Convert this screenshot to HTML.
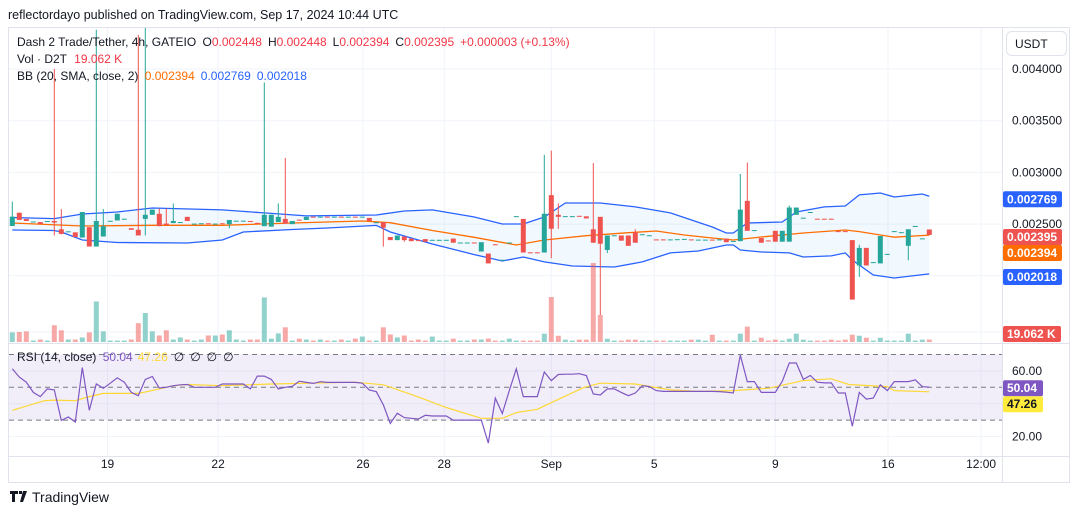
<!DOCTYPE html>
<html><head><meta charset="utf-8"><style>
body{margin:0;background:#fff;width:1080px;height:515px;overflow:hidden;font-family:"Liberation Sans",sans-serif}
svg{display:block}
text{font-family:"Liberation Sans",sans-serif}
</style></head><body>
<svg id="c" width="1080" height="515" viewBox="0 0 1080 515" xmlns="http://www.w3.org/2000/svg">
<text x="8" y="19" font-size="12.5" fill="#131722">reflectordayo published on TradingView.com, Sep 17, 2024 10:44 UTC</text>
<rect x="8.5" y="27.5" width="1061" height="455" fill="#fff" stroke="#e0e3eb"/>
<g id="grid"></g>
<g id="bb"></g>
<g id="vol"></g>
<g id="candles"></g>
<g id="rsi"></g>
<line x1="8" y1="343.5" x2="1069" y2="343.5" stroke="#e0e3eb"/>
<line x1="8" y1="456.5" x2="1069" y2="456.5" stroke="#e0e3eb"/>
<line x1="1002.5" y1="27" x2="1002.5" y2="483" stroke="#e0e3eb"/>
<g id="axis" font-size="12" fill="#131722"></g>
<rect x="1006.5" y="31.5" width="60" height="24" rx="5" fill="#fff" stroke="#e0e3eb"/>
<text x="1015" y="48" font-size="12" fill="#131722">USDT</text>
<g font-size="12">
<text x="17" y="46" fill="#131722">Dash 2 Trade/Tether, 4h, GATEIO <tspan dx="3">O</tspan><tspan fill="#f23645">0.002448</tspan><tspan dx="6">H</tspan><tspan fill="#f23645">0.002448</tspan><tspan dx="6">L</tspan><tspan fill="#f23645">0.002394</tspan><tspan dx="6">C</tspan><tspan fill="#f23645">0.002395</tspan><tspan dx="6" fill="#f23645">+0.000003 (+0.13%)</tspan></text>
<text x="17" y="63" fill="#131722">Vol · D2T <tspan dx="4" fill="#f23645">19.062 K</tspan></text>
<text x="17" y="80" fill="#131722">BB (20, SMA, close, 2) <tspan dx="3" fill="#ff6d00">0.002394</tspan><tspan dx="6" fill="#2962ff">0.002769</tspan><tspan dx="6" fill="#2962ff">0.002018</tspan></text>
<text x="17" y="361" fill="#131722">RSI (14, close) <tspan dx="3" fill="#7e57c2">50.04</tspan><tspan dx="5" fill="#fdd835">47.26</tspan><tspan dx="6">∅</tspan><tspan dx="6">∅</tspan><tspan dx="6">∅</tspan><tspan dx="6">∅</tspan></text>
</g>
<g id="tags" font-size="12" font-weight="bold"></g>
<g id="time" font-size="12" fill="#131722"></g>
<g>
<path d="M10 491h8v3h-3v8h-3v-8h-2z M19 491h3v3h-3z M23 491h4l-4 11h-3z" fill="#131722"/>
<text x="32" y="502" font-size="14" fill="#131722">TradingView</text>
</g>
</svg>
<script>
const opens=[2482,2610,2550,2520,2520,2525,2530,2450,2425,2420,2370,2470,2283,2380,2528,2535,2548,2460,2445,2550,2590,2600,2505,2510,2515,2570,2500,2505,2508,2500,2508,2500,2530,2530,2530,2512,2480,2475,2520,2550,2500,2543,2540,2572,2568,2572,2568,2572,2568,2572,2568,2560,2515,2520,2375,2345,2380,2360,2345,2355,2345,2345,2345,2360,2318,2318,2322,2235,2215,2305,2150,2318,2573,2550,2227,2227,2225,2780,2590,2573,2573,2580,2575,2450,2570,2250,2388,2390,2390,2420,2398,2388,2352,2352,2348,2350,2353,2352,2346,2346,2350,2348,2360,2333,2335,2725,2438,2365,2342,2435,2330,2330,2590,2558,2613,2552,2552,2552,2432,2432,2345,2100,2270,2128,2120,2208,2428,2418,2290,2478,2358,2448];
const closes=[2572,2540,2530,2525,2500,2530,2515,2405,2430,2375,2617,2283,2530,2480,2532,2600,2552,2445,2390,2590,2640,2480,2490,2530,2520,2530,2505,2508,2503,2505,2503,2540,2533,2533,2525,2508,2590,2590,2570,2505,2530,2538,2570,2568,2572,2568,2572,2568,2572,2568,2572,2530,2518,2465,2345,2390,2345,2335,2342,2330,2348,2348,2348,2320,2322,2322,2318,2325,2120,2300,2155,2322,2577,2225,2223,2223,2600,2455,2570,2577,2577,2575,2555,2320,2310,2390,2392,2340,2290,2320,2402,2392,2348,2348,2352,2354,2357,2348,2350,2350,2346,2352,2325,2337,2640,2435,2442,2320,2338,2330,2435,2660,2660,2562,2617,2548,2548,2548,2428,2428,1770,2270,2100,2132,2385,2212,2432,2422,2450,2482,2362,2395];
const highs=[2717,2610,2550,2525,2520,2530,4000,2645,2430,2420,2617,2470,4380,2645,2532,2600,2552,2460,4330,4400,2640,2650,2650,2700,2520,2570,2505,2508,2508,2505,2508,2540,2533,2533,2530,2512,3870,2590,2700,3140,2530,2543,2570,2572,2572,2572,2572,2572,2572,2572,2572,2560,2518,2520,2375,2390,2380,2360,2345,2355,2348,2348,2348,2360,2322,2322,2322,2325,2215,2305,2155,2322,2577,2550,2227,2227,3170,3210,2700,2577,2577,2580,2575,3090,2570,2390,2392,2390,2390,2450,2402,2392,2352,2352,2352,2354,2357,2352,2350,2350,2350,2352,2360,2337,2985,3095,2442,2365,2342,2435,2435,2680,2660,2562,2617,2552,2552,2552,2432,2432,2345,2300,2270,2132,2385,2212,2432,2422,2450,2482,2362,2448];
const lows=[2482,2540,2530,2520,2500,2525,2390,2400,2425,2375,2370,2283,2283,2380,2528,2535,2548,2445,2390,2390,2590,2480,2490,2510,2515,2530,2500,2505,2503,2500,2503,2460,2530,2530,2525,2508,2480,2475,2520,2505,2500,2538,2540,2568,2568,2568,2568,2568,2568,2568,2568,2530,2515,2282,2345,2345,2330,2335,2342,2330,2345,2345,2345,2320,2318,2318,2318,2235,2120,2300,2150,2318,2573,2225,2223,2223,2225,2170,2455,2573,2573,2575,2555,2320,1620,2220,2388,2340,2290,2320,2398,2388,2348,2348,2348,2350,2353,2348,2346,2346,2346,2348,2325,2333,2335,2435,2438,2320,2338,2330,2330,2330,2590,2558,2613,2548,2548,2548,2428,2428,1770,1990,2100,2128,2120,2208,2428,2418,2150,2478,2358,2394];
const volumes=[74,77,82,11,19,11,129,90,19,19,35,74,312,82,11,11,11,19,145,223,82,50,90,19,35,19,11,19,50,50,58,90,19,11,19,19,343,26,66,113,11,26,19,11,19,11,11,19,11,26,42,11,11,113,58,35,50,11,19,11,42,11,11,26,11,11,19,19,26,11,11,26,11,11,11,11,64,346,48,18,11,18,18,608,208,25,11,11,18,18,11,11,11,11,11,11,11,18,18,11,56,11,11,11,64,118,11,33,11,18,11,25,64,18,11,11,11,18,11,18,56,48,33,11,33,11,11,11,64,11,18,19];
const rsiValues=[61.3,56.2,53.1,46.9,44.3,49.0,48.4,29.8,31.9,28.8,62.0,36.0,52.1,49.4,52.5,55.8,53.1,46.9,44.9,54.8,56.6,49.6,50,51,51.5,51.7,50,50,50,50,52,52,52,52,49,56.8,56.8,54.8,49,50,50.6,53.7,53,52.4,53.4,53,53,53,53,53,52.5,48.4,47.3,39.3,28,34.2,31.5,31.1,30.7,32.9,32.5,32.5,32.5,30,30,30,30,30,16,43.4,34,48,61.3,44.3,44.3,44.3,59.3,54.1,57.8,58,58,58.3,57.2,45.9,45.3,49,49,46.9,44.9,46.5,51,50.4,48,47.5,47.5,47.5,47.5,47.5,47.5,47.5,47.5,47.4,47,46.5,69.6,53.5,53.5,46.9,46.9,46.9,53.7,64.8,64.8,54.8,57.2,53.1,52.7,52.7,46.5,46.5,26.3,46.9,42.8,43.4,51.5,48,53.5,53.5,53.5,54.5,50.4,50.04];
const rsiMaIdx=[0,4.6,6,9,10.5,13,18,20,23,25,30,37,49,53,57.5,62,67,70,72,75,77.6,81.7,84,89,94,98,103,108,113,117,119.5,125,126,131];
const rsiMaVal=[36,41.8,42.2,41.8,43.8,46.3,46.3,48,51,51.7,51,52,53.1,51.5,44.9,37.7,31.1,31.1,34.6,36.6,41.8,50,52.5,52,48.4,47.5,48,49.4,54.1,55.2,51.7,50.4,48,47.26];
const bbUpperIdx=[0,6,10,15,20,30,36,42,52,56,60,66,70,73,76,79,84,89,94,100,102,103,105,110,112,116,119,121,124,126,130,131];
const bbUpperVal=[2564,2553,2598,2617,2656,2637,2608,2579,2588,2627,2637,2569,2501,2501,2569,2704,2704,2666,2608,2472,2414,2414,2511,2520,2617,2666,2675,2782,2801,2762,2791,2769];
const bbLowerIdx=[0,6,7,10,15,25,30,33,40,45,52,54,60,66,70,73,76,80,86,90,94,98,102,103,104,107,111,113,117,119,120,123,126,131];
const bbLowerVal=[2443,2438,2424,2346,2322,2317,2346,2424,2448,2462,2487,2424,2308,2205,2143,2182,2134,2095,2085,2134,2221,2240,2298,2298,2250,2230,2221,2182,2192,2221,2153,2008,1979,2018];
const bbMidIdx=[0,10,20,30,40,50,54,60,66,72,76,82,88,92,96,100,103,107,113,119,121,126,131];
const bbMidVal=[2511,2482,2488,2488,2511,2530,2514,2438,2372,2298,2346,2388,2417,2433,2395,2366,2346,2375,2414,2443,2427,2373,2394];
const priceTicks=[4000,3500,3000,2500,2000];
const rsiTicks=[60,20];
const timeLabels=["19","22","26","28","Sep","5","9","16","12:00"];
const timeLabelIdx=[13.6,29.4,50.1,61.7,77,91.7,109,125.1,138.4];

const NS="http://www.w3.org/2000/svg";
const n=opens.length;
const xI=i=>12.3+i*(917/(n-1));
const yP=p=>69+(4000-p)*0.1034;
const yV=v=>342-v*0.13;
const yR=v=>354.5+(70-v)*1.64;
function mk(tag,attrs,parent){const e=document.createElementNS(NS,tag);for(const k in attrs)e.setAttribute(k,attrs[k]);parent.appendChild(e);return e;}
const G=id=>document.getElementById(id);

const grid=G('grid');
priceTicks.forEach(t=>{const l=mk('line',{x1:9,x2:1002,y1:yP(t),y2:yP(t),stroke:'#f0f3fa'},grid);

});
mk('line',{x1:9,x2:1002,y1:332,y2:332,stroke:'#f0f3fa'},grid);
[60,40,20].forEach(t=>{const l=mk('line',{x1:9,x2:1002,y1:yR(t),y2:yR(t),stroke:'#f0f3fa'},grid);

});
timeLabelIdx.forEach(i=>{const l=mk('line',{x1:xI(i),x2:xI(i),y1:28,y2:456,stroke:'#f0f3fa'},grid);

});

const bb=G('bb');
const pts=(ix,vs)=>ix.map((i,k)=>xI(i).toFixed(1)+','+yP(vs[k]).toFixed(1));
const up=pts(bbUpperIdx,bbUpperVal),lo=pts(bbLowerIdx,bbLowerVal);
const fill=mk('polygon',{points:up.join(' ')+' '+lo.slice().reverse().join(' '),fill:'rgba(33,150,243,0.06)'},bb);


const u=mk('polyline',{points:up.join(' '),fill:'none',stroke:'#2962ff','stroke-width':1.3},bb);


const lw=mk('polyline',{points:lo.join(' '),fill:'none',stroke:'#2962ff','stroke-width':1.3},bb);


const md=mk('polyline',{points:pts(bbMidIdx,bbMidVal).join(' '),fill:'none',stroke:'#ff6d00','stroke-width':1.3},bb);



const vol=G('vol'),cg=G('candles');
for(let i=0;i<n;i++){
 const isUp=closes[i]>=opens[i];
 const col=isUp?'#26a69a':'#ef5350';
 const x=xI(i);
 const vb=mk('rect',{x:x-2.5,y:yV(volumes[i]),width:5,height:342-yV(volumes[i]),fill:isUp?'rgba(38,166,154,0.5)':'rgba(239,83,80,0.5)'},vol);
 
 
 const w=mk('line',{x1:x,x2:x,y1:Math.max(28,yP(highs[i])),y2:yP(lows[i]),stroke:col,'stroke-width':1},cg);
 
 
 const t=yP(Math.max(opens[i],closes[i])),b=yP(Math.min(opens[i],closes[i]));
 const r=mk('rect',{x:x-2.5,y:t,width:5,height:Math.max(1,b-t),fill:col},cg);
 
 
}

const rs=G('rsi');
const band=mk('rect',{x:9,y:yR(70),width:993,height:yR(30)-yR(70),fill:'rgba(126,87,194,0.1)'},rs);


[70,50,30].forEach(v=>{const l=mk('line',{x1:9,x2:1002,y1:yR(v),y2:yR(v),stroke:'#787b86','stroke-dasharray':'5,4','stroke-width':1},rs);

});
const ma=mk('polyline',{points:rsiMaIdx.map((i,k)=>xI(i).toFixed(1)+','+yR(rsiMaVal[k]).toFixed(1)).join(' '),fill:'none',stroke:'#fdd835','stroke-width':1.2},rs);


const rl=mk('polyline',{points:rsiValues.map((v,i)=>xI(i).toFixed(1)+','+yR(v).toFixed(1)).join(' '),fill:'none',stroke:'#7e57c2','stroke-width':1.2},rs);



const ax=G('axis');
priceTicks.forEach(t=>{const e=mk('text',{x:1012,y:yP(t)+4},ax);e.textContent=(t/1e6).toFixed(6);

});
rsiTicks.forEach(t=>{const e=mk('text',{x:1012,y:yR(t)+4},ax);e.textContent=t.toFixed(2);

});
const tm=G('time');
timeLabels.forEach((s,k)=>{const e=mk('text',{x:xI(timeLabelIdx[k]),y:468,'text-anchor':'middle'},tm);e.textContent=s;

});

const tg=G('tags');
function tag(txt,y,bg,fg,w,name){const r=mk('rect',{x:1003,y:y-8,width:w||59,height:16,rx:2,fill:bg},tg);


const e=mk('text',{x:1007,y:y+4,fill:fg},tg);e.textContent=txt;

}
tag('0.002769',yP(2769)+3,'#2962ff','#fff',59,'bb-upper');
tag('0.002395',yP(2395)+2,'#ef5350','#fff',59,'last-price');
tag('0.002394',yP(2394)+18,'#ff6d00','#fff',59,'bb-basis');
tag('0.002018',yP(2018)+3,'#2962ff','#fff',59,'bb-lower');
tag('19.062 K',334,'#ef5350','#fff',58,'volume');
tag('50.04',yR(50.04)+1,'#7e57c2','#fff',40,'rsi');
tag('47.26',yR(50.04)+17,'#ffeb3b','#131722',40,'rsi-ma');
</script>
</body></html>
